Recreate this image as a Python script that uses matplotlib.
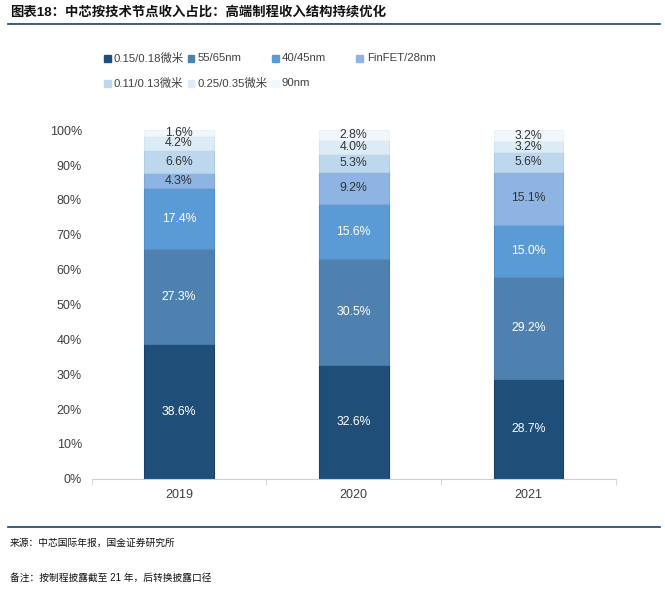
import matplotlib.pyplot as plt
from matplotlib.patches import Rectangle
from matplotlib.lines import Line2D
import numpy as np

years = ['2019', '2020', '2021']
nodes = ['0.15/0.18微米', '55/65nm', '40/45nm', 'FinFET/28nm',
         '0.11/0.13微米', '0.25/0.35微米', '90nm']
# share of revenue per node, one list per node (2019, 2020, 2021)
n_015 = [38.6, 32.6, 28.7]
n_55 = [27.3, 30.5, 29.2]
n_40 = [17.4, 15.6, 15.0]
n_finfet = [4.3, 9.2, 15.1]
n_011 = [6.6, 5.3, 5.6]
n_025 = [4.2, 4.0, 3.2]
n_90 = [1.6, 2.8, 3.2]
series = [n_015, n_55, n_40, n_finfet, n_011, n_025, n_90]

colors = ['#1f4e79', '#4f81b0', '#5b9bd5', '#8db4e2',
          '#bdd7ee', '#ddebf7', '#f2f7fc']
edges = ['#1a416a', '#4677a6', '#4f8fcb', '#7fa8d8',
         '#b0cde8', '#d3e4f3', '#eaf1f9']
label_colors = ['white', 'white', 'white', '#333333',
                '#333333', '#333333', '#333333']

CN = ['Liberation Sans', 'Noto Sans CJK SC']
plt.rcParams['font.family'] = CN

fig = plt.figure(figsize=(6.65, 5.89), dpi=100)
ax = fig.add_axes([0.138, 0.187, 0.788, 0.592])

x = np.arange(len(years))
bottom = np.zeros(len(years))
for vals, c, ec, lc in zip(series, colors, edges, label_colors):
    vals = np.array(vals)
    ax.bar(x, vals, 0.4, bottom=bottom, color=c, edgecolor=ec, linewidth=0.8)
    for xi, b, v in zip(x, bottom, vals):
        ax.text(xi, b + v / 2, f'{v:.1f}%', ha='center', va='center',
                fontsize=8.8, color=lc)
    bottom += vals

ax.set_xlim(-0.5, 2.5)
ax.set_ylim(0, 100)
ax.set_yticks(np.arange(0, 101, 10))
ax.set_yticklabels([f'{v}%' for v in range(0, 101, 10)])
ax.set_xticks(x)
ax.set_xticklabels(years)
ax.set_xticks([-0.5, 0.5, 1.5, 2.5], minor=True)
ax.tick_params(axis='both', which='major', length=0, labelsize=9,
               labelcolor='#404040', pad=7)
ax.tick_params(axis='x', which='minor', length=4, color='#d0d0d0')
for s in ['top', 'right', 'left']:
    ax.spines[s].set_visible(False)
ax.spines['bottom'].set_color('#d0d0d0')

# legend, drawn row by row as in the original
leg_pos = [(107, 58), (191, 58), (275, 58), (360, 58),
           (107, 83), (191, 83), (275, 83)]
W, H = 665, 589
for (px, py), name, c in zip(leg_pos, nodes, colors):
    fig.patches.append(Rectangle(((px - 3.5) / W, 1 - (py + 3.5) / H),
                                 7 / W, 7 / H, color=c,
                                 transform=fig.transFigure))
    fig.text((px + 7) / W, 1 - py / H, name, fontsize=8.2,
             color='#404040', va='center', ha='left')

# title and rules
fig.text(10 / W, 1 - 12 / H, '图表18：中芯按技术节点收入占比：高端制程收入结构持续优化',
         fontsize=9.6, fontweight='bold', va='center', ha='left', color='#111111')
fig.add_artist(Line2D([8 / W, 660 / W], [1 - 24 / H, 1 - 24 / H],
                      color='#1f3f5f', linewidth=1.2, transform=fig.transFigure))
fig.add_artist(Line2D([8 / W, 660 / W], [1 - 527 / H, 1 - 527 / H],
                      color='#1f3f5f', linewidth=1.2, transform=fig.transFigure))
fig.text(10 / W, 1 - 543 / H, '来源：中芯国际年报，国金证券研究所',
         fontsize=7, va='center', ha='left', color='#111111')
fig.text(10 / W, 1 - 578 / H, '备注：按制程披露截至 21 年，后转换披露口径',
         fontsize=7, va='center', ha='left', color='#111111')

fig.savefig('out.png', dpi=100)
